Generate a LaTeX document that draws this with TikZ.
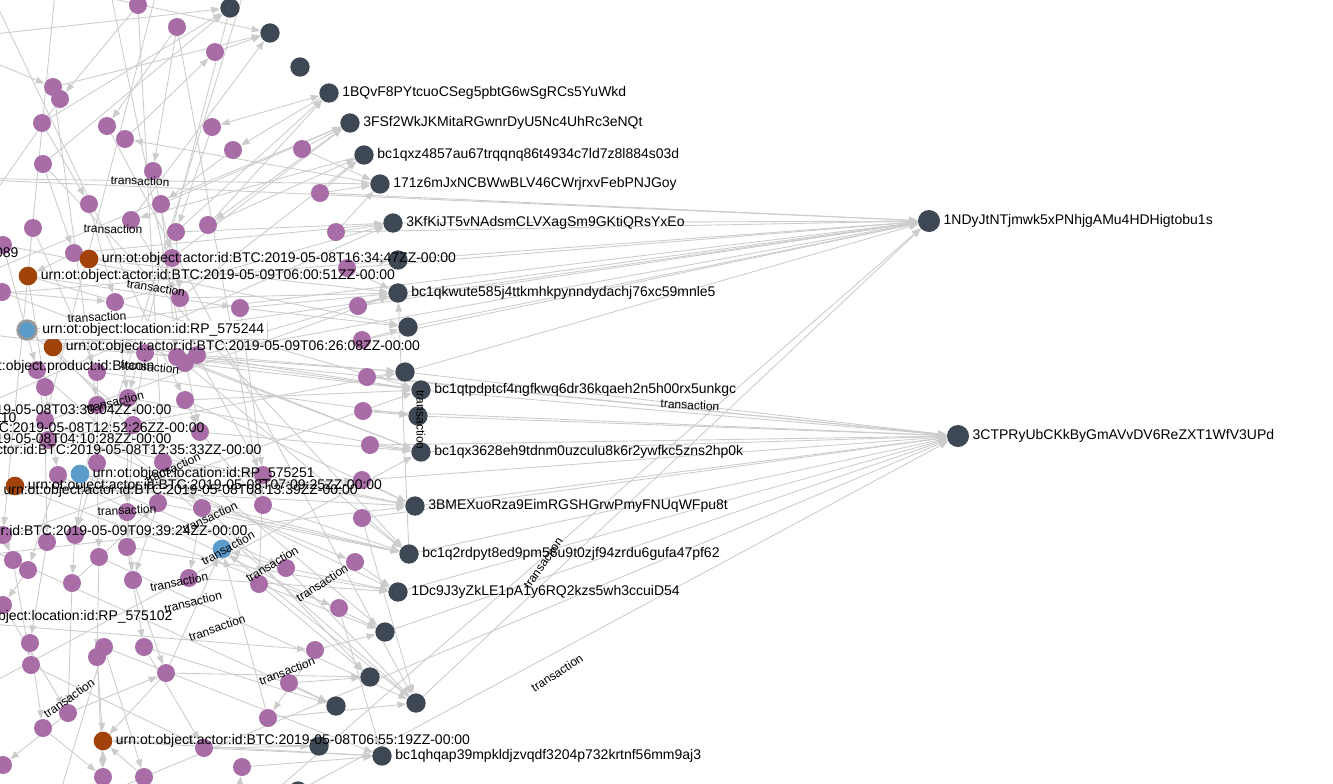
\documentclass[tikz,border=0pt]{standalone}
\usepackage{fontspec}
\setmainfont{Liberation Sans}
\usetikzlibrary{arrows.meta,shadows}
\definecolor{addrc}{HTML}{3E4854}
\definecolor{txc}{HTML}{A86CA6}
\definecolor{actc}{HTML}{A0420A}
\definecolor{locc}{HTML}{5A9BC9}
\definecolor{edgec}{HTML}{CCCCCC}
\pgfdeclarelayer{back}
\pgfdeclarelayer{bg}
\pgfsetlayers{back,bg,main}

\begin{document}
\begin{tikzpicture}[x=0.75pt,y=-0.75pt,
  addr/.style={circle,fill=addrc,inner sep=0pt,minimum size=14.5pt},
  hub/.style={addr,minimum size=16.5pt},
  tx/.style={circle,fill=txc,inner sep=0pt,minimum size=13.5pt},
  actor/.style={circle,fill=actc,inner sep=0pt,minimum size=14pt},
  loc/.style={circle,fill=locc,inner sep=0pt,minimum size=14pt},
  lbl/.style={font=\fontsize{10.5}{12}\selectfont,inner sep=1pt},
  cut/.style={lbl,anchor=east},
  rel/.style={font=\fontsize{9}{10}\selectfont,inner sep=0pt},
  link/.style={draw=edgec,line width=0.65pt,-{Triangle[length=6.5pt,width=5pt]}},
  twoway/.style={link,{Triangle[length=6.5pt,width=5pt]}-{Triangle[length=6.5pt,width=5pt]}},
  label distance=1.3pt]
\useasboundingbox (0,0) rectangle (1333,783);
\begin{pgfonlayer}{back}
\fill[white] (0,0) rectangle (1333,783);
\end{pgfonlayer}
\clip (0,0) rectangle (1333,783);

% transaction nodes
\foreach \x/\y [count=\i] in {138/5,177/27,215/52,53/87,60/99,42/123,107/126,125/139,212/127,233/150,
  302/149,43/164,153/171,320/193,89/204,161/204,33/228,131/220,176/232,208/225,
  336/232,3/245,74/253,172/258,347/268,115/302,180/298,240/308,358/306,2/292,
  362/340,145/353,177/357,185/363,197/355,97/372,37/370,45/387,367/377,185/400,
  128/398,97/405,45/420,363/411,200/432,133/425,370/445,48/440,97/463,58/475,
  163/462,362/480,263/475,263/505,202/508,158/503,127/512,362/518,3/535,47/542,
  75/535,127/547,13/560,28/570,99/557,133/580,72/583,189/578,259/584,286/568,
  355/562,339/608,3/605,30/643,31/665,104/647,97/657,144/647,166/673,315/650,
  289/683,68/713,43/728,268/718,204/748,242/767,3/765,103/777,144/777}
  \node[tx] (p\i) at (\x,\y) {};

% addresses
\node[addr] (k1) at (230,8) {};
\node[addr] (k2) at (270,33) {};
\node[addr] (k3) at (300,67) {};
\node[addr,label={[lbl]right:1BQvF8PYtcuoCSeg5pbtG6wSgRCs5YuWkd}] (k4) at (329,93) {};
\node[addr,label={[lbl]right:3FSf2WkJKMitaRGwnrDyU5Nc4UhRc3eNQt}] (k5) at (350,123) {};
\node[addr,label={[lbl]right:bc1qxz4857au67trqqnq86t4934c7ld7z8l884s03d}] (k6) at (364,155) {};
\node[addr,label={[lbl]right:171z6mJxNCBWwBLV46CWrjrxvFebPNJGoy}] (k7) at (380,184) {};
\node[addr,label={[lbl]right:3KfKiJT5vNAdsmCLVXagSm9GKtiQRsYxEo}] (k8) at (393,223) {};
\node[addr] (k9) at (398,260) {};
\node[addr,label={[lbl]right:bc1qkwute585j4ttkmhkpynndydachj76xc59mnle5}] (k10) at (398,293) {};
\node[addr] (k11) at (408,327) {};
\node[addr] (k12) at (405,372) {};
\node[addr,label={[lbl]right:bc1qtpdptcf4ngfkwq6dr36kqaeh2n5h00rx5unkgc}] (k13) at (421,390) {};
\node[addr] (k14) at (418,416) {};
\node[addr,label={[lbl]right:bc1qx3628eh9tdnm0uzculu8k6r2ywfkc5zns2hp0k}] (k15) at (421,452) {};
\node[addr,label={[lbl]right:3BMEXuoRza9EimRGSHGrwPmyFNUqWFpu8t}] (k16) at (415,506) {};
\node[addr,label={[lbl]right:bc1q2rdpyt8ed9pm56u9t0zjf94zrdu6gufa47pf62}] (k17) at (409,554) {};
\node[addr,label={[lbl]right:1Dc9J3yZkLE1pA1y6RQ2kzs5wh3ccuiD54}] (k18) at (398,592) {};
\node[addr] (k19) at (385,632) {};
\node[addr] (k20) at (370,677) {};
\node[addr] (k21) at (416,703) {};
\node[addr] (k22) at (336,706) {};
\node[addr] (k23) at (319,746) {};
\node[addr,label={[lbl]right:bc1qhqap39mpkldjzvqdf3204p732krtnf56mm9aj3}] (k24) at (382,756) {};
\node[addr] (k25) at (298,791) {};
\node[hub,label={[lbl]right:1NDyJtNTjmwk5xPNhjgAMu4HDHigtobu1s}] (h1) at (929,221) {};
\node[hub,label={[lbl]right:3CTPRyUbCKkByGmAVvDV6ReZXT1WfV3UPd}] (h2) at (958,436) {};

% actors and locations
\node[actor,label={[lbl]right:{urn:ot:object:actor:id:BTC:2019-05-08T16:34:47ZZ-00:00}}] (a1) at (89,259) {};
\node[actor,label={[lbl]right:{urn:ot:object:actor:id:BTC:2019-05-09T06:00:51ZZ-00:00}}] (a2) at (28,276) {};
\node[actor,label={[lbl]right:{urn:ot:object:actor:id:BTC:2019-05-09T06:26:08ZZ-00:00}}] (a3) at (53,347) {};
\node[actor,label={[lbl]right:{urn:ot:object:actor:id:BTC:2019-05-08T07:09:25ZZ-00:00}}] (a4) at (15,486) {};
\node[actor,label={[lbl]right:{urn:ot:object:actor:id:BTC:2019-05-08T06:55:19ZZ-00:00}}] (a5) at (103,741) {};
\node[loc,draw=gray!80,line width=2pt,label={[lbl,fill=white,inner sep=2pt,drop shadow={shadow xshift=0.8pt,shadow yshift=-0.8pt,opacity=0.4}]right:{urn:ot:object:location:id:RP\_575244}}] (b1) at (27,330) {};
\node[loc,label={[lbl]right:{urn:ot:object:location:id:RP\_575251}}] (b2) at (80,474) {};
\node[loc] (b3) at (222,549) {};

% nodes off the left edge, only their labels show
\node[cut] (u1) at (20,254) {urn:ot:object:location:id:RP\_575089};
\node[cut] (u2) at (156,367) {urn:ot:object:product:id:Bitcoin};
\node[cut] (u3) at (173,411) {urn:ot:object:actor:id:BTC:2019-05-08T03:39:04ZZ-00:00};
\node[cut] (u4) at (18,419) {urn:ot:object:location:id:RP\_575110};
\node[cut] (u5) at (206,429) {urn:ot:object:actor:id:BTC:2019-05-08T12:52:26ZZ-00:00};
\node[cut] (u6) at (173,440) {urn:ot:object:actor:id:BTC:2019-05-08T04:10:28ZZ-00:00};
\node[cut] (u7) at (263,451) {urn:ot:object:actor:id:BTC:2019-05-08T12:35:33ZZ-00:00};
\node[lbl,anchor=west] (u8) at (2,491) {urn:ot:object:actor:id:BTC:2019-05-08T08:13:39ZZ-00:00};
\node[cut] (u9) at (249,532) {urn:ot:object:actor:id:BTC:2019-05-09T09:39:24ZZ-00:00};
\node[cut] (u10) at (174,617) {urn:ot:object:location:id:RP\_575102};

\foreach \n/\x/\y in {o1/-60/40,o2/-60/178,o3/-80/300,o4/-50/420,o5/-60/460,o6/-60/560,
  o7/-40/700,o8/-30/850,o9/150/900,o10/100/-60,o11/-20/-30,o12/-120/500,o13/260/-60,
  o14/170/-60,o15/60/-60,o16/-60/620,o17/40/860,o18/230/860,o19/-50/330}
  \coordinate (\n) at (\x,\y);

\begin{pgfonlayer}{bg}
\clip (0,0) rectangle (1333,783);
% links into the addresses
\foreach \s/\t in {o1/k1,p12/k1,p6/k1,p3/k2,p4/k2,p18/k2,o11/k2,k4/p10,p20/k4,p19/k4,
  p11/k5,p16/k5,p24/k5,o3/k5,p14/k6,p20/k6,p27/k6,k6/p18,k5/p20,k7/p8,p14/k7,p21/k7,
  p11/k7,o2/k7,p19/k8,p21/k8,p23/k8,o4/k8,p26/k8,p25/k10,p29/k10,p27/k10,p28/k10,
  a1/k10,k17/k10,p33/k10,o5/k10,p28/k11,p31/k11,p35/k12,p39/k12,a3/k12,p34/k13,
  p40/k13,b1/k13,p32/k13,o6/k13,p44/k14,p36/k14,p45/k15,p41/k15,p47/k15,o7/k15,
  p33/k15,p51/k16,p53/k16,p40/k16,p52/k16,p54/k17,p56/k17,p58/k17,p55/k17,p34/k17,
  p68/k18,p70/k18,p71/k18,p62/k18,p69/k19,p80/k19,p79/k20,p81/k20,p69/k20,p65/k21,
  p84/k21,p70/k21,p58/k21,p78/k22,p81/k22,a5/k24,p85/k24,p86/k24,p76/k24,p72/k24,
  p85/k23,o3/k9,o5/k12,o6/k16,a4/k16,b2/k17,a2/k13,p30/k15,p22/k11,b1/k19,a3/k20,
  p37/k21,p43/k18,o12/k22,p50/k19,p7/k21,p12/k17}
  \draw[link] (\s) -- (\t);
% links into the two big addresses
\foreach \s in {o2,p21,k8,p14,p25,k10,k11,p29,p31,b1,a3,k9,k21,o9,p35,k12}
  \draw[link] (\s) -- (h1);
\foreach \s in {k13,k15,k16,k17,k18,k14,p39,p44,p47,p52,k12,k19,p33,k25,o8,p58}
  \draw[link] (\s) -- (h2);
% the tangle on the left
\foreach \s/\t in {o1/p4,p2/p13,p8/p3,p5/o3,p6/p15,p12/p23,p15/p26,p17/p36,p22/p37,
  p13/p24,p16/p33,p18/p27,p23/a2,a1/p24,a2/p38,p26/p41,p30/p26,p32/p46,p36/p49,
  p37/p48,p38/p50,p41/p57,p42/p61,p43/p60,p46/p62,p49/p65,p50/p64,p57/p66,p60/p74,
  p61/p67,p63/p75,p65/p77,p66/p79,p67/p82,p74/p83,p77/p88,p76/p89,p78/p85,p79/b3,
  p80/p84,p82/p87,p83/p88,p89/a5,p64/p73,p59/p63,p45/p54,p53/p69,p55/p68,p56/p66,
  p62/p78,p51/p55,p40/p45,p35/p53,p28/p53,p24/p35,p19/p27,p10/p16,p9/p19,p2/p7,
  p1/p5,o12/p52,o10/p45,o11/p40,p1/p51,p2/p54,p4/p42,k1/p41,o13/p61,o14/p43,
  o15/p59,k21/b3,p84/b3,p70/b3,p79/a5,p77/a5,k23/a5,o16/p80,o17/p76,o18/p86,
  o19/p32,a2/p28,b2/p70,u8/p71,a4/p72,p67/p56,p75/p85,p73/p82,p82/p79,p48/p53}
  \draw[link] (\s) -- (\t);
\draw[twoway] (p9) -- (k4);
\draw[twoway] (p88) -- (a5);
\end{pgfonlayer}

% edge labels
\foreach \x/\y/\a [count=\i] in {140/181/-2,113/229/-1,156/288/-9,97/317/3,150/367/-5,
  115/402/14,173/468/25,127/510/3,210/517/25,228/548/29,179/582/11,272/564/31,
  193/602/14,322/583/33,217/628/19,287/671/21,69/698/35,421/420/-90,690/405/-3,
  543/563/55,557/673/33}
  \node[rel,rotate=\a] (r\i) at (\x,\y) {transaction};
\end{tikzpicture}
\end{document}
